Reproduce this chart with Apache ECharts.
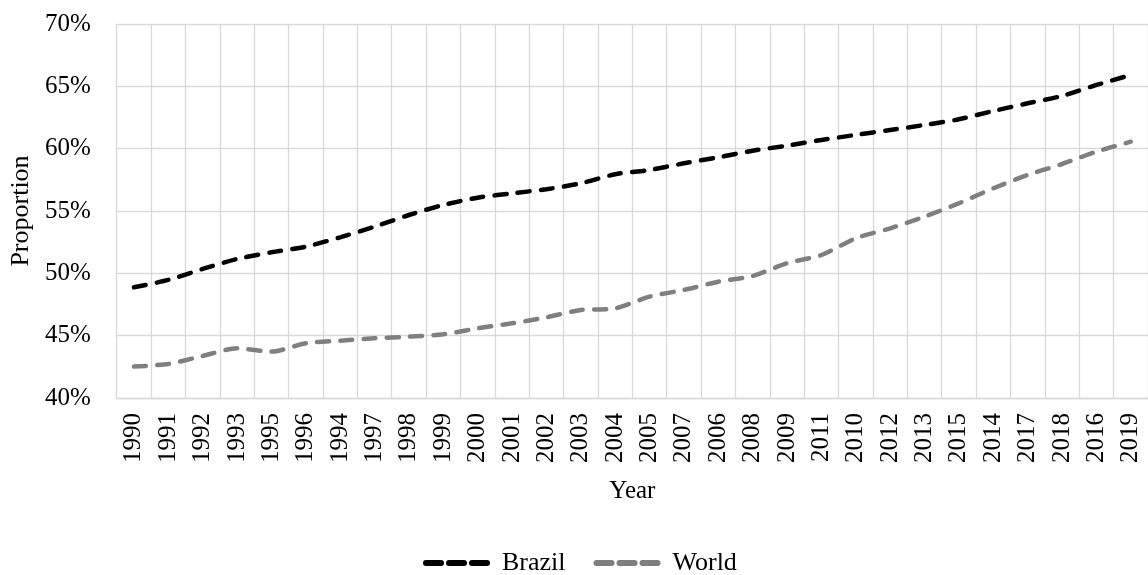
<!DOCTYPE html>
<html>
<head>
<meta charset="utf-8">
<script src="https://cdn.jsdelivr.net/npm/echarts@6/dist/echarts.min.js"></script>
<style>
  html, body { margin: 0; padding: 0; background: #ffffff; }
  #chart { width: 1148px; height: 575px; }
</style>
</head>
<body>
<div id="chart"></div>
<script>
// Year categories, in the order they appear along the axis
const years = ['1990','1991','1992','1993','1995','1996','1994','1997','1998','1999',
  '2000','2001','2002','2003','2004','2005','2007','2006','2008','2009',
  '2011','2010','2012','2013','2015','2014','2017','2018','2016','2019'];

// Proportion (%) for each series
const brazil = [48.88, 49.47, 50.35, 51.15, 51.69, 52.14, 52.89, 53.74, 54.68, 55.48,
  56.07, 56.42, 56.74, 57.22, 57.95, 58.29, 58.83, 59.31, 59.84, 60.24,
  60.70, 61.10, 61.50, 61.90, 62.36, 63.02, 63.64, 64.23, 65.11, 65.91];
const world = [42.52, 42.73, 43.37, 43.99, 43.72, 44.39, 44.60, 44.79, 44.92, 45.11,
  45.59, 45.99, 46.47, 47.06, 47.19, 48.13, 48.67, 49.33, 49.79, 50.81,
  51.47, 52.81, 53.61, 54.55, 55.62, 56.82, 57.89, 58.77, 59.76, 60.56];

// Y-axis range and step (percent)
const yMin = 40, yMax = 70, yStep = 5;

const FONT = '"Liberation Serif", "Times New Roman", serif';
const GRID_COLOR = '#d9d9d9';

// Legend icon: three rounded dashes
const dashIcon = 'path://M3,0 H18 A3,3 0 0 1 18,6 H3 A3,3 0 0 1 3,0 Z ' +
  'M26,0 H41 A3,3 0 0 1 41,6 H26 A3,3 0 0 1 26,0 Z ' +
  'M49,0 H64 A3,3 0 0 1 64,6 H49 A3,3 0 0 1 49,0 Z';

function lineSeries(name, data, color) {
  return {
    name: name,
    type: 'line',
    data: data,
    smooth: 0.25,
    symbol: 'none',
    itemStyle: { color: color },
    lineStyle: { color: color, width: 4.5, type: [12, 11.3], cap: 'round' }
  };
}

const chart = echarts.init(document.getElementById('chart'), null, { renderer: 'canvas' });
chart.setOption({
  animation: false,
  backgroundColor: '#ffffff',
  textStyle: { fontFamily: FONT, color: '#000000' },
  grid: { left: 115, right: -4, top: 24, bottom: 177, containLabel: false },
  legend: {
    left: 423,
    top: 550,
    padding: 0,
    icon: dashIcon,
    itemWidth: 67,
    itemHeight: 6,
    itemGap: 28,
    itemStyle: { borderWidth: 0 },
    lineStyle: { width: 0, type: 'solid' },
    textStyle: { fontFamily: FONT, fontSize: 26, color: '#000000', padding: [0, 0, 0, 7] },
    data: ['Brazil', 'World']
  },
  xAxis: {
    type: 'category',
    data: years,
    boundaryGap: true,
    name: 'Year',
    nameLocation: 'middle',
    nameGap: 81,
    nameTextStyle: { fontFamily: FONT, fontSize: 25, color: '#000000' },
    axisLine: { show: true, lineStyle: { color: GRID_COLOR, width: 1.3 } },
    axisTick: { show: false },
    axisLabel: {
      interval: 0,
      rotate: 90,
      margin: 15,
      fontFamily: FONT,
      fontSize: 25,
      color: '#000000'
    },
    splitLine: { show: true, interval: 0, lineStyle: { color: GRID_COLOR, width: 1.3 } }
  },
  yAxis: {
    type: 'value',
    min: yMin,
    max: yMax,
    interval: yStep,
    name: 'Proportion',
    nameLocation: 'middle',
    nameGap: 80,
    nameRotate: 90,
    nameTextStyle: { fontFamily: FONT, fontSize: 26, color: '#000000' },
    axisLine: { show: false },
    axisTick: { show: false },
    axisLabel: {
      margin: 26,
      fontFamily: FONT,
      fontSize: 25,
      color: '#000000',
      formatter: function (v) { return v + '%'; }
    },
    splitLine: { show: true, lineStyle: { color: GRID_COLOR, width: 1.3 } }
  },
  series: [
    lineSeries('Brazil', brazil, '#000000'),
    lineSeries('World', world, '#7f7f7f')
  ]
});
</script>
</body>
</html>
